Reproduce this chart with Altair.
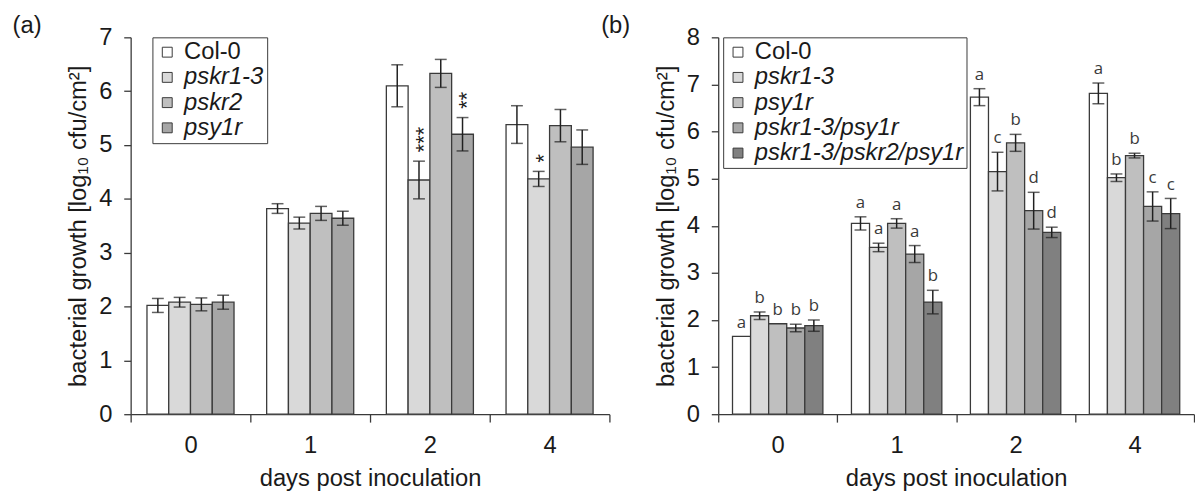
import altair as alt
import pandas as pd

FONT = "Liberation Sans"
LETTER_FONT = "Open Sans"
TXT = "#1a1a1a"
EDGE = "#3a3a3a"
YTITLE = "bacterial growth [log₁₀ cfu/cm²]"
XTITLE = "days post inoculation"
FS = 24

days = ["0", "1", "2", "4"]

# ---------------- panel (a) ----------------
geno_a = ["Col-0", "pskr1-3", "pskr2", "psy1r"]
fill_a = ["#ffffff", "#d9d9d9", "#bfbfbf", "#a6a6a6"]
mean_a_col0 = [2.02, 3.82, 6.10, 5.38]
mean_a_pskr13 = [2.08, 3.55, 4.35, 4.37]
mean_a_pskr2 = [2.04, 3.73, 6.33, 5.36]
mean_a_psy1r = [2.08, 3.64, 5.20, 4.96]
err_a_col0 = [0.13, 0.09, 0.39, 0.35]
err_a_pskr13 = [0.09, 0.11, 0.35, 0.14]
err_a_pskr2 = [0.12, 0.13, 0.26, 0.30]
err_a_psy1r = [0.13, 0.13, 0.31, 0.32]
star_a_col0 = ["", "", "", ""]
star_a_pskr13 = ["", "", "***", "*"]
star_a_pskr2 = ["", "", "", ""]
star_a_psy1r = ["", "", "**", ""]

# ---------------- panel (b) ----------------
geno_b = ["Col-0", "pskr1-3", "psy1r", "pskr1-3/psy1r", "pskr1-3/pskr2/psy1r"]
fill_b = ["#ffffff", "#d9d9d9", "#bfbfbf", "#a6a6a6", "#808080"]
mean_b_col0 = [1.65, 4.05, 6.73, 6.81]
mean_b_pskr13 = [2.09, 3.54, 5.15, 5.02]
mean_b_psy1r = [1.92, 4.05, 5.76, 5.49]
mean_b_double = [1.83, 3.40, 4.32, 4.41]
mean_b_triple = [1.88, 2.38, 3.86, 4.26]
err_b_col0 = [0.0, 0.14, 0.18, 0.22]
err_b_pskr13 = [0.08, 0.09, 0.41, 0.08]
err_b_psy1r = [0.0, 0.10, 0.18, 0.05]
err_b_double = [0.08, 0.18, 0.39, 0.31]
err_b_triple = [0.12, 0.25, 0.11, 0.32]
let_b_col0 = ["a", "a", "a", "a"]
let_b_pskr13 = ["b", "a", "c", "b"]
let_b_psy1r = ["b", "a", "b", "b"]
let_b_double = ["b", "a", "d", "c"]
let_b_triple = ["b", "b", "d", "c"]


def make_df(genos, means, errs, notes):
    rows = []
    for g, m, e, n in zip(genos, means, errs, notes):
        for d, mv, ev, nv in zip(days, m, e, n):
            rows.append({"day": d, "genotype": g, "mean": mv, "err": ev,
                         "lo": mv - ev, "hi": mv + ev, "note": nv})
    return pd.DataFrame(rows)


df_a = make_df(geno_a,
               [mean_a_col0, mean_a_pskr13, mean_a_pskr2, mean_a_psy1r],
               [err_a_col0, err_a_pskr13, err_a_pskr2, err_a_psy1r],
               [star_a_col0, star_a_pskr13, star_a_pskr2, star_a_psy1r])
df_b = make_df(geno_b,
               [mean_b_col0, mean_b_pskr13, mean_b_psy1r, mean_b_double, mean_b_triple],
               [err_b_col0, err_b_pskr13, err_b_psy1r, err_b_double, err_b_triple],
               [let_b_col0, let_b_pskr13, let_b_psy1r, let_b_double, let_b_triple])


def panel(df, genos, fills, ymax, width, height, outer_pad, lx, ly, label, tdx, kind):
    xaxis = alt.Axis(title=XTITLE, labelAngle=0, tickBand="extent", tickSize=8,
                     labelPadding=12, titlePadding=9)
    yaxis = alt.Axis(title=YTITLE, values=list(range(0, ymax + 1)), format="d", tickSize=7,
                     labelPadding=12, titlePadding=8)
    ysc = alt.Scale(domain=[0, ymax], nice=False, zero=True)
    base = alt.Chart(df).encode(
        x=alt.X("day:N", sort=days, scale=alt.Scale(paddingInner=0, paddingOuter=0), axis=xaxis),
        xOffset=alt.XOffset("genotype:N", sort=genos,
                            scale=alt.Scale(paddingInner=0, paddingOuter=outer_pad)),
    )
    legend = alt.Legend(
        title=None, orient="none", legendX=lx, legendY=ly, direction="vertical",
        strokeColor=EDGE, fillColor="white", padding=3, symbolType="square",
        symbolSize=100, symbolStrokeColor=EDGE, symbolStrokeWidth=1,
        labelFont=FONT, labelFontSize=FS, labelColor=TXT, labelOffset=5,
        rowPadding=1.5, labelLimit=400,
        labelFontStyle={"expr": "datum.value == 'Col-0' ? 'normal' : 'italic'"},
    )
    bars = base.mark_bar(stroke=EDGE, strokeWidth=1.3).encode(
        y=alt.Y("mean:Q", stack=None, scale=ysc, axis=yaxis),
        fill=alt.Fill("genotype:N", sort=genos, scale=alt.Scale(domain=genos, range=fills),
                      legend=legend),
    )
    eb = base.transform_filter("datum.err > 0")
    rule = eb.mark_rule(color="#202020", strokeWidth=1.5).encode(
        y=alt.Y("lo:Q", title=YTITLE), y2="hi:Q")
    cap_hi = eb.mark_tick(color="#202020", thickness=1.5, size=12).encode(
        y=alt.Y("hi:Q", title=YTITLE))
    cap_lo = eb.mark_tick(color="#202020", thickness=1.5, size=12).encode(
        y=alt.Y("lo:Q", title=YTITLE))
    notes = base.transform_filter("datum.note != ''")
    if kind == "stars":
        txt = notes.mark_text(angle=270, align="left", baseline="middle", dx=9, dy=5,
                              font=FONT, fontSize=22, color="#202020").encode(
            y=alt.Y("hi:Q", title=YTITLE), text="note:N")
    else:
        txt = notes.mark_text(align="center", baseline="alphabetic", dy=-9,
                              font=LETTER_FONT, fontSize=17, color="#3a3a3a").encode(
            y=alt.Y("hi:Q", title=YTITLE), text="note:N")
    return alt.layer(bars, rule, cap_hi, cap_lo, txt).properties(
        width=width, height=height,
        title=alt.TitleParams(label, anchor="start", frame="bounds", fontSize=FS, font=FONT,
                              fontWeight="normal", color=TXT, offset=-37,
                              baseline="bottom", dx=tdx),
    )


pa = panel(df_a, geno_a, fill_a, 7, 484, 381, 0.75, 22, 0, "(a)", -55, "stars")
pb = panel(df_b, geno_b, fill_b, 8, 481, 381, 0.79, 5, 0, "(b)", -54, "letters")

chart = alt.hconcat(pa, pb, spacing=110, bounds="flush").resolve_scale(
    fill="independent", xOffset="independent"
).resolve_legend(fill="independent").properties(
    padding={"left": 4, "top": 4, "right": 0, "bottom": 0}
).configure_view(stroke=None).configure_axis(
    labelFont=FONT, titleFont=FONT, labelFontSize=FS, titleFontSize=FS,
    labelColor=TXT, titleColor=TXT, titleFontWeight="normal",
    domainColor=EDGE, tickColor=EDGE, domainWidth=1.3, tickWidth=1.3, grid=False,
)

chart.save("out.html", embed_options={"renderer": "svg", "actions": False})
